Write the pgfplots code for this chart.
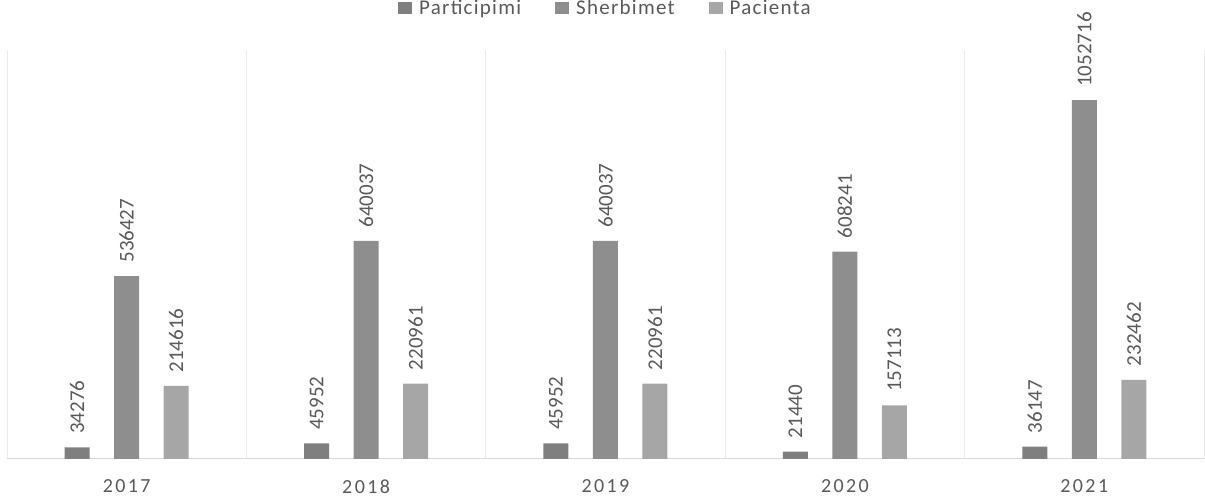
\documentclass[border=0pt]{standalone}
\usepackage{pgfplots}
\pgfplotsset{compat=1.18}
\usepackage{fontspec}
\setmainfont{Carlito}
\definecolor{txt}{HTML}{595959}
\definecolor{cA}{HTML}{7F7F7F}
\definecolor{cB}{HTML}{8E8E8E}
\definecolor{cC}{HTML}{A6A6A6}
\definecolor{gridc}{HTML}{EBEBEB}
\definecolor{basec}{HTML}{D9D9D9}
\begin{document}
\begin{tikzpicture}[x=1pt,y=1pt]
\useasboundingbox (0,0) rectangle (1205,500);
\begin{axis}[
  at={(7pt,41pt)}, anchor=south west,
  scale only axis, width=1197pt, height=409pt,
  xmin=-0.5, xmax=4.5, ymin=0, ymax=1200000,
  axis y line=none,
  axis x line*=bottom,
  x axis line style={draw=basec, line width=1pt, -},
  xtick={0,1,2,3,4},
  xticklabels={2017,2018,2019,2020,2021},
  minor xtick={-0.5,0.5,1.5,2.5,3.5,4.5},
  xminorgrids=true,
  minor grid style={draw=gridc, line width=0.8pt},
  major tick length=0pt, minor tick length=0pt,
  xticklabel style={font=\fontsize{20}{24}\selectfont\addfontfeatures{LetterSpace=12}, text=txt, yshift=-17pt},
  ybar, bar width=25pt,
  point meta=explicit symbolic,
  nodes near coords={\pgfplotspointmeta},
  every node near coord/.append style={rotate=90, anchor=west, font=\fontsize{21}{24}\selectfont, text=txt, xshift=10pt},
  legend columns=3,
  legend style={draw=none, fill=none, at={(0.5,1)}, anchor=north, yshift=52pt, inner sep=0pt,
    font=\fontsize{21}{24}\selectfont\addfontfeatures{LetterSpace=6}, text=txt,
    /tikz/every odd column/.append style={column sep=5pt},
    /tikz/every even column/.append style={column sep=32pt}},
  legend image code/.code={\fill[#1] (0pt,-6pt) rectangle (14pt,6pt);},
]
\addplot[fill=cA, draw=none, bar shift=-49.5pt] coordinates {
  (0,34276) [34276] (1,45952) [45952] (2,45952) [45952] (3,21440) [21440] (4,36147) [36147]};
\addplot[fill=cB, draw=none, bar shift=0pt] coordinates {
  (0,536427) [536427] (1,640037) [640037] (2,640037) [640037] (3,608241) [608241] (4,1052716) [1052716]};
\addplot[fill=cC, draw=none, bar shift=49.5pt] coordinates {
  (0,214616) [214616] (1,220961) [220961] (2,220961) [220961] (3,157113) [157113] (4,232462) [232462]};
\legend{Participimi, Sherbimet, Pacienta}
\end{axis}
\end{tikzpicture}
\end{document}
